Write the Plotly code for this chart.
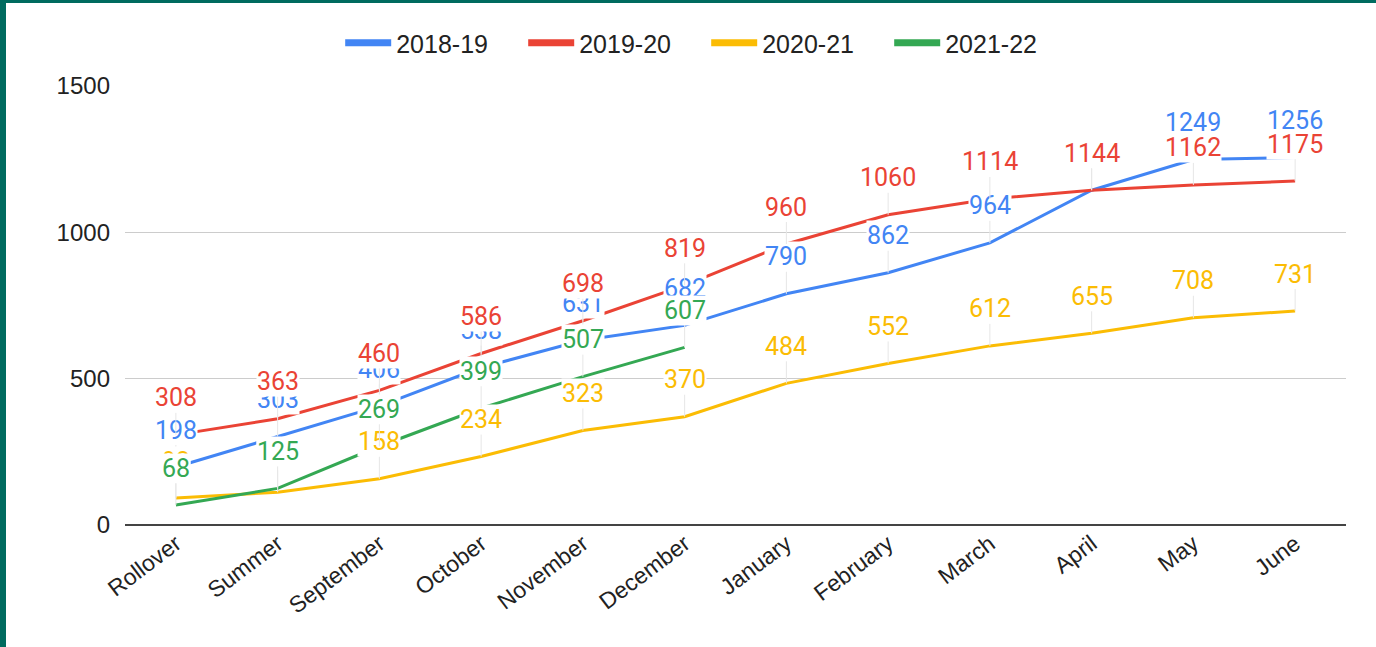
import plotly.graph_objects as go

categories = ["Rollover", "Summer", "September", "October", "November", "December",
              "January", "February", "March", "April", "May", "June"]
series_names = ["2018-19", "2019-20", "2020-21", "2021-22"]
values_2018_19 = [198, 303, 406, 538, 631, 682, 790, 862, 964, 1144, 1249, 1256]
values_2019_20 = [308, 363, 460, 586, 698, 819, 960, 1060, 1114, 1144, 1162, 1175]
values_2020_21 = [92, 112, 158, 234, 323, 370, 484, 552, 612, 655, 708, 731]
values_2021_22 = [68, 125, 269, 399, 507, 607]
y_ticks = [0, 500, 1000, 1500]

colors = ["#4285F4", "#EA4335", "#FBBC04", "#34A853"]
all_values = [values_2018_19, values_2019_20, values_2020_21, values_2021_22]

W, H = 1376, 647
ML, MR, MT, MB = 125, 30, 86, 122

fig = go.Figure()
for name, vals, c in zip(series_names, all_values, colors):
    fig.add_trace(go.Scatter(x=categories[:len(vals)], y=vals, mode="lines",
                             line=dict(color=c, width=3), showlegend=False,
                             hoverinfo="skip"))
# legend-only entries with thick bars
for name, c in zip(series_names, colors):
    fig.add_trace(go.Scatter(x=[None], y=[None], mode="lines", name=name,
                             line=dict(color=c, width=7), showlegend=True))

annotations = []
for vals, c in zip(all_values, colors):
    for cat, v in zip(categories, vals):
        annotations.append(dict(
            x=cat, y=v, xref="x", yref="y", text=str(v),
            showarrow=True, arrowhead=0, arrowwidth=1, arrowcolor="#e6e6e6",
            ax=0, ay=-37, standoff=0,
            font=dict(family="Roboto", size=25, color=c),
            bgcolor="white", borderpad=0,
        ))

shapes = [
    dict(type="rect", xref="paper", yref="paper", xsizemode="pixel", ysizemode="pixel",
         xanchor=0, yanchor=0, x0=-ML, x1=-ML + 6, y0=-MB, y1=H - MB,
         fillcolor="#006B5F", line=dict(width=0), layer="above"),
    dict(type="rect", xref="paper", yref="paper", xsizemode="pixel", ysizemode="pixel",
         xanchor=0, yanchor=0, x0=-ML, x1=W - ML, y0=H - MB - 3, y1=H - MB,
         fillcolor="#006B5F", line=dict(width=0), layer="above"),
]

fig.update_layout(
    width=W, height=H,
    margin=dict(l=ML, r=MR, t=MT, b=MB, pad=0, autoexpand=False),
    paper_bgcolor="white", plot_bgcolor="white",
    font=dict(family="Liberation Sans, Arial", size=22, color="#222222"),
    legend=dict(orientation="h", x=0.476, xanchor="center", y=0.969, yref="container",
                yanchor="top", font=dict(size=25, color="#222222"),
                bgcolor="rgba(0,0,0,0)",
                itemwidth=46, traceorder="normal", entrywidth=122),
    xaxis=dict(type="category", categoryorder="array", categoryarray=categories,
               range=[-0.5, 11.5], showgrid=False, showline=False, zeroline=False,
               tickangle=-37, tickfont=dict(size=23, color="#222222"), ticks=""),
    yaxis=dict(range=[0, 1500], tickvals=y_ticks, showgrid=True, gridcolor="#cccccc",
               gridwidth=1, zeroline=True, zerolinecolor="#444444", zerolinewidth=2,
               showline=False, ticks="", ticklabelstandoff=14,
               tickfont=dict(size=24, color="#222222")),
    annotations=annotations,
    shapes=shapes,
    hovermode=False,
)

fig.write_html("out.html", config={"displayModeBar": False},
               post_script="document.body.style.margin='0';document.body.style.overflow='hidden';")
